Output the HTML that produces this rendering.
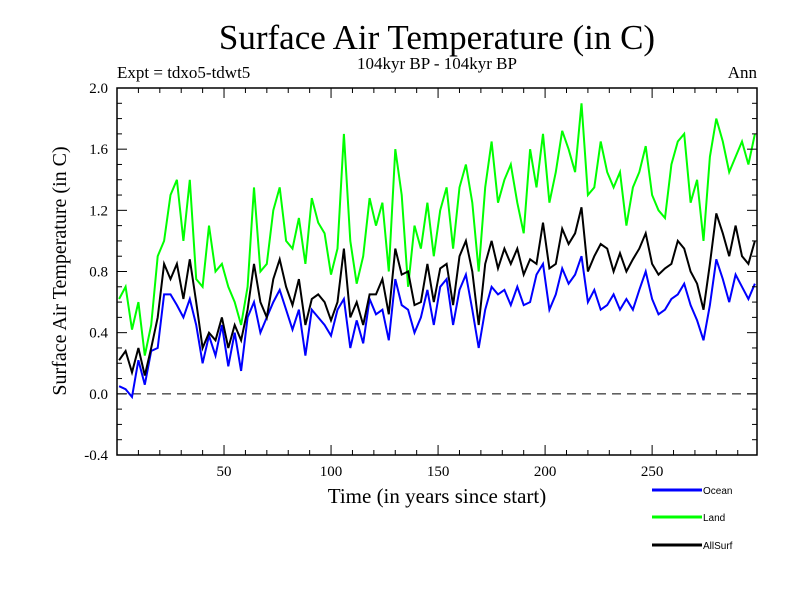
<!DOCTYPE html>
<html><head><meta charset="utf-8"><style>
html,body{margin:0;padding:0;background:#fff;}
svg{display:block;}
text{font-family:"Liberation Serif",serif;fill:#000;}
</style></head><body>
<svg id="chart" width="800" height="600" xmlns="http://www.w3.org/2000/svg">
<text x="437" y="49" font-size="35" text-anchor="middle">Surface Air Temperature (in C)</text>
<text x="437" y="69" font-size="17" text-anchor="middle">104kyr BP - 104kyr BP</text>
<text x="117" y="78" font-size="17">Expt = tdxo5-tdwt5</text>
<text x="757" y="78" font-size="17" text-anchor="end">Ann</text>
<text transform="translate(66,271) rotate(-90)" font-size="20" text-anchor="middle">Surface Air Temperature (in C)</text>
<text x="437" y="503" font-size="21" text-anchor="middle">Time (in years since start)</text>
<g id="plot"></g>
<g id="legend"></g>
</svg>
<script>
const years=[];for(let i=0;i<100;i++)years.push(1+3*i);
const land=[0.62,0.70,0.42,0.60,0.25,0.45,0.90,1.00,1.30,1.40,1.00,1.40,0.75,0.70,1.10,0.80,0.85,0.70,0.60,0.45,0.70,1.35,0.80,0.85,1.20,1.35,1.00,
0.95,1.15,0.85,1.28,1.12,1.05,0.78,0.95,1.70,1.00,0.72,0.90,1.28,1.10,1.25,0.80,1.60,1.30,0.70,1.10,0.95,1.25,0.90,1.20,1.35,
0.95,1.35,1.50,1.25,0.80,1.35,1.65,1.25,1.40,1.50,1.25,1.05,1.60,1.35,1.70,1.25,1.45,1.72,1.60,1.45,1.90,1.30,1.35,1.65,
1.45,1.35,1.45,1.10,1.35,1.45,1.62,1.30,1.20,1.15,1.50,1.65,1.70,1.25,1.40,1.00,1.55,1.80,1.65,1.45,1.55,1.65,1.50,1.70];
const ocean=[0.05,0.03,-0.02,0.22,0.06,0.28,0.30,0.65,0.65,0.58,0.50,0.62,0.45,0.20,0.38,0.25,0.45,0.18,0.40,0.15,0.50,0.60,0.40,0.50,0.60,0.68,
0.55,0.42,0.55,0.25,0.55,0.50,0.45,0.38,0.55,0.62,0.30,0.48,0.33,0.62,0.52,0.55,0.35,0.75,0.58,0.55,0.40,0.50,0.68,0.45,0.70,0.75,
0.45,0.68,0.78,0.55,0.30,0.55,0.70,0.65,0.68,0.58,0.70,0.58,0.60,0.78,0.85,0.55,0.65,0.82,0.72,0.78,0.90,0.60,0.68,0.55,
0.58,0.65,0.55,0.62,0.55,0.68,0.80,0.62,0.52,0.55,0.62,0.65,0.72,0.58,0.48,0.35,0.58,0.88,0.75,0.60,0.78,0.70,0.62,0.72];
const allsurf=[0.22,0.28,0.14,0.30,0.12,0.30,0.50,0.85,0.75,0.85,0.62,0.88,0.60,0.30,0.40,0.35,0.50,0.30,0.45,0.35,0.55,0.85,0.60,0.50,0.75,0.88,0.70,
0.58,0.75,0.45,0.62,0.65,0.60,0.48,0.60,0.95,0.50,0.60,0.45,0.65,0.65,0.75,0.52,0.95,0.78,0.80,0.58,0.60,0.85,0.60,0.82,0.85,
0.58,0.90,1.00,0.80,0.45,0.85,1.00,0.82,0.95,0.85,0.95,0.78,0.88,0.85,1.12,0.82,0.85,1.08,0.98,1.05,1.22,0.80,0.90,0.98,
0.95,0.80,0.92,0.80,0.88,0.95,1.05,0.85,0.78,0.82,0.85,1.00,0.95,0.80,0.72,0.55,0.85,1.18,1.05,0.90,1.10,0.90,0.85,1.00];
const yTicks=[-0.4,0.0,0.4,0.8,1.2,1.6,2.0];
const yTickLabels=["-0.4","0.0","0.4","0.8","1.2","1.6","2.0"];
const xTicks=[50,100,150,200,250];
const xTickLabels=["50","100","150","200","250"];
const seriesNames=["Ocean","Land","AllSurf"];
const seriesColors=["#0000ff","#00ff00","#000000"];

const L=117,R=757,T=88,B=455;
const xs=v=>L+(v-0)*(R-L)/299;
const ys=v=>B-(v+0.4)*(B-T)/2.4;
const NS="http://www.w3.org/2000/svg";
const plot=document.getElementById('plot');
function mk(tag,attrs,parent){const e=document.createElementNS(NS,tag);for(const k in attrs)e.setAttribute(k,attrs[k]);parent.appendChild(e);return e;}

// zero line
const z=mk('line',{x1:L,x2:R,y1:ys(0),y2:ys(0),stroke:'#000','stroke-width':1,'stroke-dasharray':'9,6'},plot);



function drawSeries(vals,color,name){
  const pts=years.map((y,i)=>xs(y).toFixed(1)+','+ys(vals[i]).toFixed(1)).join(' ');
  const p=mk('polyline',{points:pts,fill:'none',stroke:color,'stroke-width':2,'stroke-linejoin':'miter'},plot);
  
  
}
drawSeries(land,seriesColors[1],'land-series');
drawSeries(ocean,seriesColors[0],'ocean-series');
drawSeries(allsurf,seriesColors[2],'allsurf-series');

// frame
const fr=mk('rect',{x:L,y:T,width:R-L,height:B-T,fill:'none',stroke:'#000','stroke-width':1.5},plot);



// y minor/major ticks
for(let k=-4;k<=20;k++){
  const v=k/10, y=ys(v), major=(k%4===0);
  const len=major?10:5;
  mk('line',{x1:L,x2:L+len,y1:y,y2:y,stroke:'#000','stroke-width':1},plot);
  mk('line',{x1:R,x2:R-len,y1:y,y2:y,stroke:'#000','stroke-width':1},plot);
}
yTicks.forEach((v,i)=>{
  const t=mk('text',{x:108,y:ys(v)+5,'font-size':15,'text-anchor':'end'},plot);
  t.textContent=yTickLabels[i];
  
  
});
// x ticks
for(let yr=10;yr<300;yr+=10){
  const x=xs(yr), major=(yr%50===0), len=major?10:5;
  mk('line',{x1:x,x2:x,y1:B,y2:B-len,stroke:'#000','stroke-width':1},plot);
  mk('line',{x1:x,x2:x,y1:T,y2:T+len,stroke:'#000','stroke-width':1},plot);
}
xTicks.forEach((v,i)=>{
  const t=mk('text',{x:xs(v),y:476,'font-size':15,'text-anchor':'middle'},plot);
  t.textContent=xTickLabels[i];
  
  
});

// legend
const lg=document.getElementById('legend');
const legY=[490,517,545];
seriesNames.forEach((n,i)=>{
  const g=mk('g',{},lg);
  
  
  mk('line',{x1:652,x2:702,y1:legY[i],y2:legY[i],stroke:seriesColors[i],'stroke-width':3},g);
  const t=mk('text',{x:703,y:legY[i]+4,'font-size':10,style:'font-family:"Liberation Sans",sans-serif'},g);
  t.textContent=n;
});
</script>
</body></html>
